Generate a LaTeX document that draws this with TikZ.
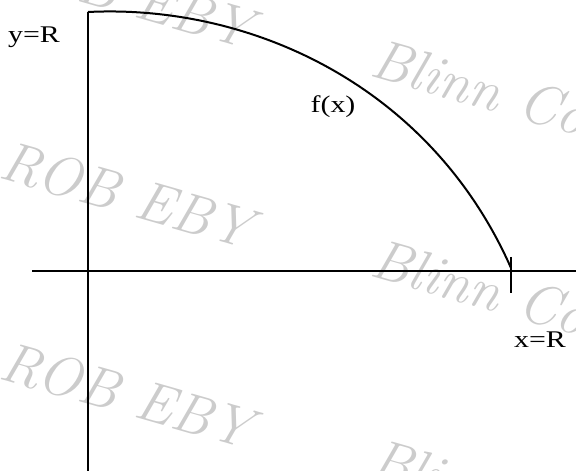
\documentclass[tikz,border=0pt]{standalone}
\usepackage{fontspec}
\newfontfamily\labelfont{Liberation Serif}
\usetikzlibrary{positioning}
\definecolor{MarkGray}{HTML}{CCCCCC}

\begin{document}
\begin{tikzpicture}[x=1bp,y=-1bp,
  axisline/.style={line width=1.7bp,draw=black},
  arcline/.style={line width=2bp,draw=black},
  lbl/.style={font=\labelfont\fontsize{24}{28}\selectfont,inner sep=0pt,xscale=1.25},
  wmark/.style={font=\fontsize{57}{60}\selectfont\itshape,text=MarkGray,rotate=-16,inner sep=0pt}]
\useasboundingbox (0,0) rectangle (576,471);
% watermark
\begin{scope}
\clip (0,0) rectangle (576,471);
\foreach \k in {0,1,2} {
  \node[wmark] (rob\k) at (127,-5+200*\k) {ROB EBY};
  \node[wmark,anchor=west] (blinn\k) at (372,62+200*\k) {Blinn College};
}
\end{scope}
% axes
\coordinate (orig) at (88,271);
\coordinate (ytop) at (88,12);
\coordinate (ybot) at (88,471);
\coordinate (xleft) at (32,271);
\coordinate (xright) at (576,271);
\coordinate (xend) at (511,268);
\coordinate (tickup) at (511,257);
\coordinate (tickdn) at (511,293);
\draw[axisline] (ytop) -- (ybot);
\draw[axisline] (xleft) -- (xright);
\draw[axisline] (tickup) -- (tickdn);
% curve
\draw[arcline] (ytop) .. controls (250,4) and (430,85) .. (xend);
% labels
\node[lbl] (ylab) at (34,37) {y=R};
\node[lbl] (flab) at (333,107) {f(x)};
\node[lbl] (xlab) at (540,340) {x=R};
\end{tikzpicture}
\end{document}
